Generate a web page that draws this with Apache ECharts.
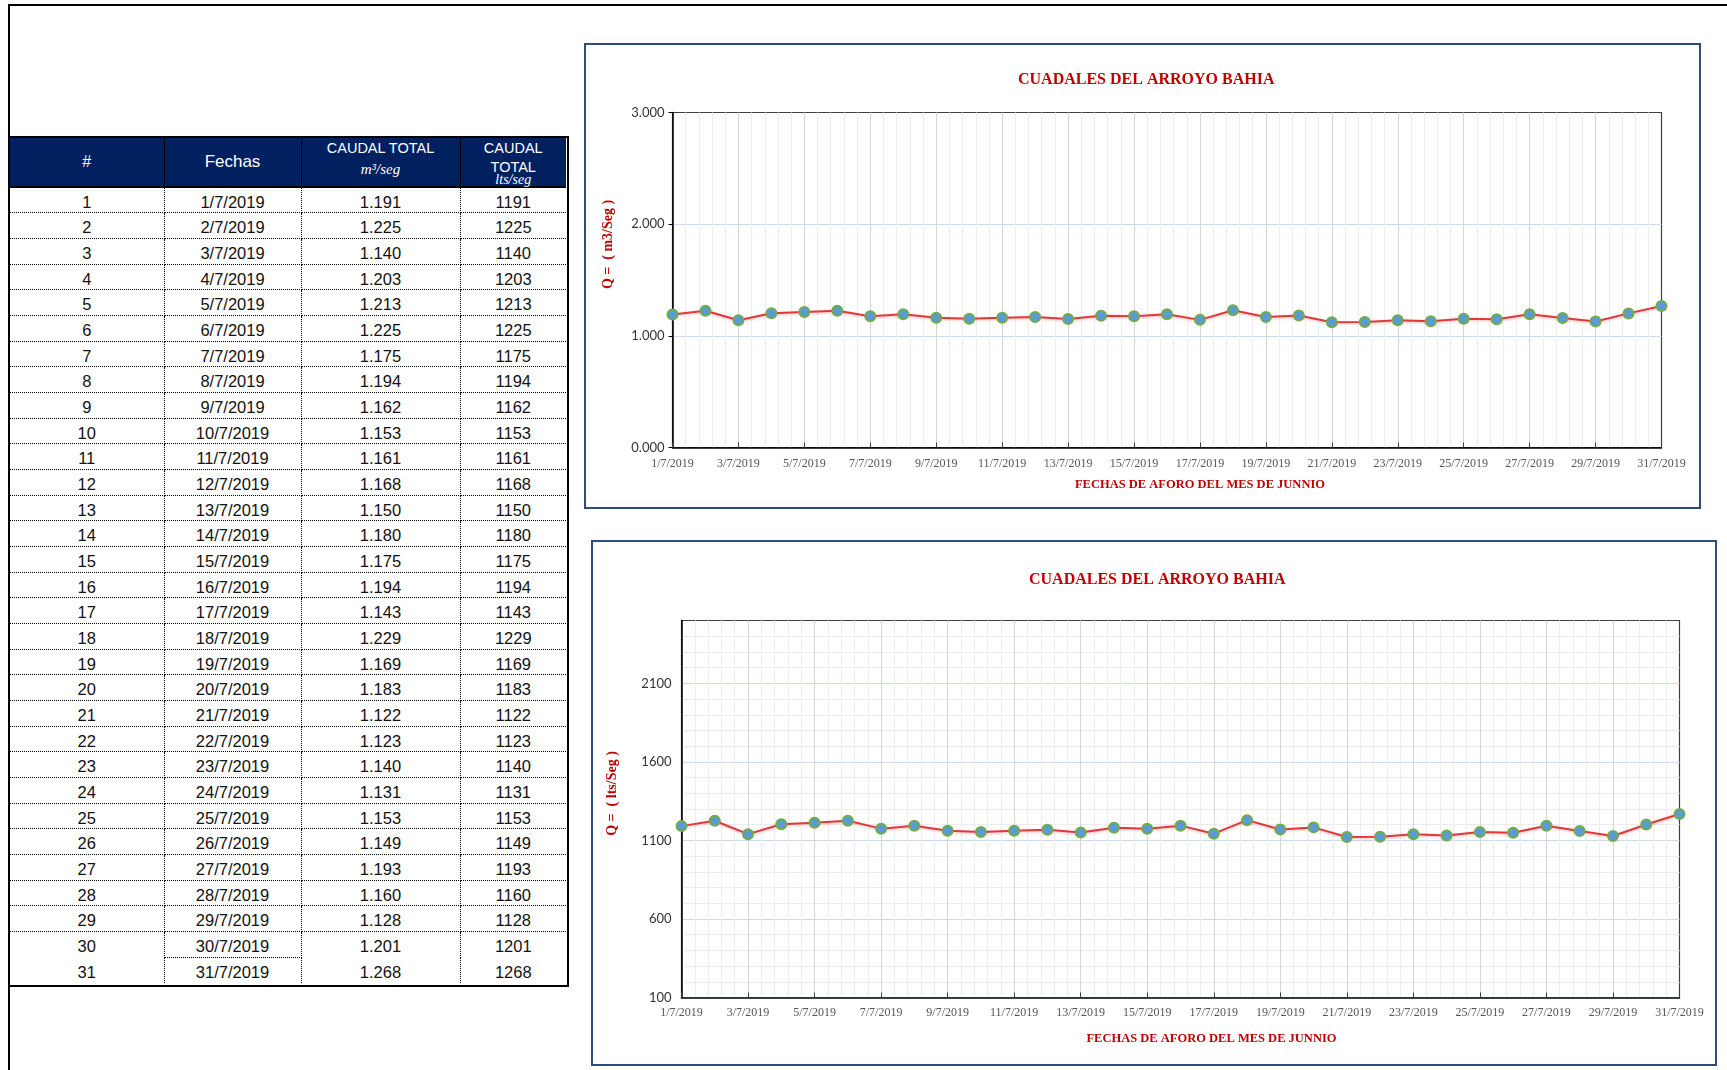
<!DOCTYPE html>
<html><head><meta charset="utf-8">
<script src="https://cdn.jsdelivr.net/npm/echarts@6/dist/echarts.min.js"></script>
<style>
html,body{margin:0;padding:0;background:#fff;width:1727px;height:1070px;overflow:hidden;position:relative;font-family:"Liberation Sans",Arial,sans-serif;}
#frameTop{position:absolute;left:8px;top:3.5px;width:1719px;height:2px;background:#000;}
#frameLeft{position:absolute;left:7.5px;top:3.5px;width:2.5px;height:1067px;background:#000;}
#tbl{position:absolute;left:8px;top:135.5px;width:561px;height:851px;border:2.5px solid #000;box-sizing:border-box;background:#fff;}
.hd{position:absolute;top:0;height:50px;background:#002060;box-sizing:border-box;border-bottom:2px solid #000;}
.ht{position:absolute;left:0;right:0;text-align:center;color:#fff;line-height:16px;white-space:nowrap;}
.cell{position:absolute;box-sizing:border-box;text-align:center;color:#111;font-size:16.5px;white-space:nowrap;}
.chartbox{position:absolute;border:2.5px solid #2f4b7c;box-sizing:border-box;background:#fff;}
.chart{position:absolute;left:0;top:0;}
</style></head>
<body>
<div id="frameTop"></div><div id="frameLeft"></div>
<div id="tbl"></div>
<div class="chartbox" style="left:584px;top:43px;width:1117px;height:466px;"><div id="c1" class="chart" style="width:1112px;height:461px;"></div></div>
<div class="chartbox" style="left:591px;top:540px;width:1126px;height:526px;"><div id="c2" class="chart" style="width:1121px;height:521px;"></div></div>
<script>
// ---- data ----
const rowNumbers = [1,2,3,4,5,6,7,8,9,10,11,12,13,14,15,16,17,18,19,20,21,22,23,24,25,26,27,28,29,30,31];
const dates = ['1/7/2019','2/7/2019','3/7/2019','4/7/2019','5/7/2019','6/7/2019','7/7/2019','8/7/2019','9/7/2019','10/7/2019',
  '11/7/2019','12/7/2019','13/7/2019','14/7/2019','15/7/2019','16/7/2019','17/7/2019','18/7/2019','19/7/2019','20/7/2019',
  '21/7/2019','22/7/2019','23/7/2019','24/7/2019','25/7/2019','26/7/2019','27/7/2019','28/7/2019','29/7/2019','30/7/2019','31/7/2019'];
const caudalM3 = [1.191,1.225,1.140,1.203,1.213,1.225,1.175,1.194,1.162,1.153,1.161,1.168,1.150,1.180,1.175,1.194,
  1.143,1.229,1.169,1.183,1.122,1.123,1.140,1.131,1.153,1.149,1.193,1.160,1.128,1.201,1.268];
const caudalLts = [1191,1225,1140,1203,1213,1225,1175,1194,1162,1153,1161,1168,1150,1180,1175,1194,
  1143,1229,1169,1183,1122,1123,1140,1131,1153,1149,1193,1160,1128,1201,1268];
const y1TickLabels = ['0.000','1.000','2.000','3.000'];
const y2TickLabels = [100,600,1100,1600,2100];
const chartTitle = 'CUADALES DEL ARROYO BAHIA';
const xAxisTitle = 'FECHAS DE AFORO DEL MES DE JUNNIO';

// ---- table ----
const tbl = document.getElementById('tbl');
const colX = [0,154.5,291.5,450.5,556];
const headTop = 50, innerH = 846, rowH = (innerH - headTop) / 31;
function addHeader(c, lines){
  const d = document.createElement('div');
  d.className = 'hd';
  d.style.left = colX[c] + 'px';
  d.style.width = (colX[c+1]-colX[c]) + 'px';
  if (c < 3) d.style.borderRight = '1px solid #000';
  lines.forEach(l => {
    const s = document.createElement('div');
    s.className = 'ht';
    s.style.top = (l.y - 8) + 'px';
    s.style.fontSize = l.size + 'px';
    if (l.font) s.style.fontFamily = l.font;
    if (l.italic) s.style.fontStyle = 'italic';
    s.textContent = l.t;
    d.appendChild(s);
  });
  tbl.appendChild(d);
}
addHeader(0,[{t:'#',y:24,size:16}]);
addHeader(1,[{t:'Fechas',y:24,size:17}]);
addHeader(2,[{t:'CAUDAL TOTAL',y:10,size:14.5},{t:'m³/seg',y:31.5,size:15,italic:true,font:'"Liberation Serif",serif'}]);
addHeader(3,[{t:'CAUDAL',y:10,size:14.5},{t:'TOTAL',y:29.5,size:14.5},{t:'lts/seg',y:42,size:14,italic:true,font:'"Liberation Serif",serif'}]);
for (let r = 0; r < 31; r++) {
  const vals = [String(rowNumbers[r]), dates[r], caudalM3[r].toFixed(3), String(caudalLts[r])];
  for (let c = 0; c < 4; c++) {
    const d = document.createElement('div');
    d.className = 'cell';
    const top = headTop + r*rowH;
    d.style.left = colX[c] + 'px';
    d.style.top = top + 'px';
    d.style.width = (colX[c+1]-colX[c]) + 'px';
    d.style.height = rowH + 'px';
    d.style.lineHeight = rowH + 'px';
    d.style.paddingTop = '2px';
    if (c < 3) d.style.borderRight = '1px dotted #000';
    if (r < 30 && (r !== 29 || c === 1)) d.style.borderBottom = '1px dotted #000';
    d.textContent = vals[c];
    tbl.appendChild(d);
  }
}

// ---- charts ----
const RED = '#c00000';
function xAxisCfg(margin){
  return {
    type:'value', min:0, max:30, interval:2,
    axisLine:{show:true, onZero:false, lineStyle:{color:'#000', width:1.5}},
    axisTick:{show:true, inside:true, length:5, lineStyle:{color:'#404040', width:1}},
    minorTick:{show:false, splitNumber:5},
    splitLine:{show:true, showMinLine:false, showMaxLine:false, lineStyle:{color:'#d6d6d6', width:1}},
    minorSplitLine:{show:true, lineStyle:{color:'#eeeeee', width:1}},
    axisLabel:{formatter: v => dates[v], fontFamily:'"Liberation Serif",serif', fontSize:12, color:'#555', margin:margin, showMaxLabel:true, showMinLabel:true}
  };
}
function seriesCfg(vals){
  return {
    type:'line', data: vals.map((v,i)=>[i,v]), symbol:'circle', symbolSize:10, z:5,
    itemStyle:{color:'#5b9bd5', borderColor:'#70ad47', borderWidth:2},
    lineStyle:{color:'#e0393b', width:2, shadowColor:'rgba(220,60,60,0.35)', shadowBlur:3, shadowOffsetY:1},
    emphasis:{disabled:true}, animation:false
  };
}
function textG(t, x, y, rot, size){
  return {type:'text', x:x, y:y, rotation: rot, style:{text:t, fill:RED, font:'bold '+size+'px "Liberation Serif", serif', align:'center', verticalAlign:'middle'}};
}
const c1 = echarts.init(document.getElementById('c1'), null, {renderer:'canvas'});
c1.setOption({
  animation:false,
  backgroundColor:'#fff',
  title:{text:chartTitle, left:427, top:21.5, textStyle:{fontFamily:'"Liberation Serif",serif', fontWeight:'bold', fontSize:16, color:RED}},
  grid:{left:86.5, top:67.5, right:36.5, bottom:58.5, show:true, borderColor:'#404040', borderWidth:1.2, backgroundColor:'transparent', containLabel:false, outerBoundsMode:'none'},
  xAxis: xAxisCfg(10),
  yAxis:{type:'value', min:0, max:3, interval:1,
    axisLine:{show:true, lineStyle:{color:'#000', width:1.5}},
    axisTick:{show:true, length:4, lineStyle:{color:'#000'}},
    splitLine:{show:true, showMinLine:false, showMaxLine:false, lineStyle:{color:'#c9dcf0', width:1}},
    axisLabel:{formatter: v => y1TickLabels[v], fontFamily:'Lato, "Liberation Sans", sans-serif', fontSize:13, color:'#333', margin:8}},
  graphic:[textG('Q =  ( m3/Seg )', 22.5, 199.5, Math.PI/2, 14), textG(xAxisTitle, 614, 439.5, 0, 12.5)],
  series:[seriesCfg(caudalM3)]
});
const c2 = echarts.init(document.getElementById('c2'), null, {renderer:'canvas'});
c2.setOption({
  animation:false,
  backgroundColor:'#fff',
  title:{text:chartTitle, left:431, top:24.5, textStyle:{fontFamily:'"Liberation Serif",serif', fontWeight:'bold', fontSize:16, color:RED}},
  grid:{left:88.5, top:78.5, right:34.5, bottom:65.5, show:true, borderColor:'#404040', borderWidth:1.2, backgroundColor:'transparent', containLabel:false, outerBoundsMode:'none'},
  xAxis: xAxisCfg(9),
  yAxis:{type:'value', min:100, max:2500, interval:100,
    axisLine:{show:true, lineStyle:{color:'#000', width:1.5}},
    axisTick:{show:false},
    splitLine:{show:true, showMaxLine:false, lineStyle:{color:['#c9dcf0','#ececec','#ececec','#ececec','#ececec'], width:1}},
    axisLabel:{formatter: v => (y2TickLabels.indexOf(v) >= 0 ? String(v) : ''), fontFamily:'Lato, "Liberation Sans", sans-serif', fontSize:13, color:'#333', margin:10, showMaxLabel:false}},
  graphic:[textG('Q =  ( lts/Seg )', 19.5, 251.5, Math.PI/2, 14), textG(xAxisTitle, 618.5, 496.5, 0, 12.5)],
  series:[seriesCfg(caudalLts)]
});
</script>
</body></html>
